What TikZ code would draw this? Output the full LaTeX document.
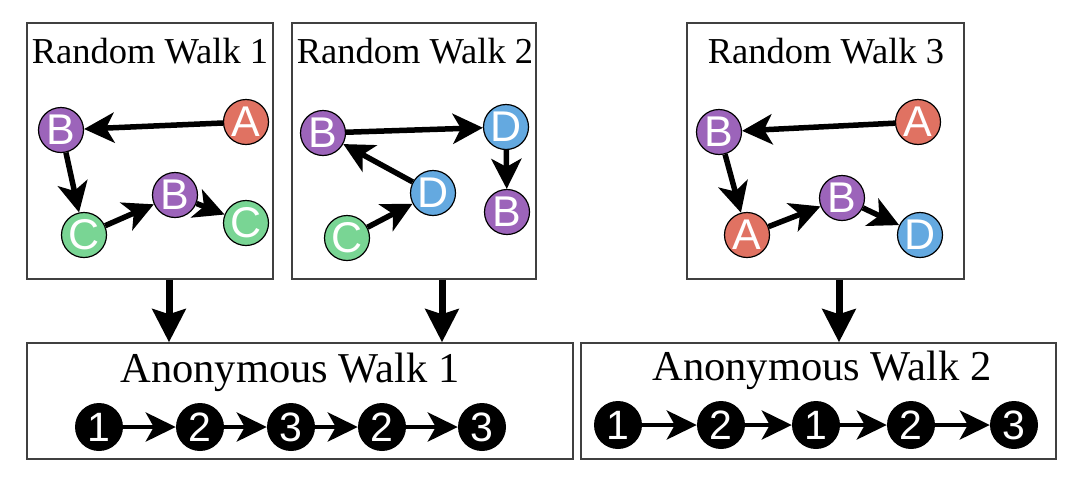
\documentclass[tikz,border=0pt]{standalone}
\usepackage{fontspec}
\setmainfont{Liberation Serif}
\setsansfont{Liberation Sans}
\usetikzlibrary{positioning}
\usetikzlibrary{arrows.meta}
\definecolor{colA}{HTML}{E07262}
\definecolor{colB}{HTML}{9C64BA}
\definecolor{colC}{HTML}{79D594}
\definecolor{colD}{HTML}{64A9E0}

\begin{document}
\begin{tikzpicture}[x=1pt,y=-1pt,
  walkbox/.style={draw=black!75,line width=1.5pt,inner sep=0pt},
  title/.style={anchor=base,font=\fontsize{36.5}{40}\selectfont},
  bigtitle/.style={anchor=base,font=\fontsize{42.5}{46}\selectfont},
  vert/.style={circle,draw=black,line width=1.2pt,minimum size=45pt,inner sep=0pt,
    text=white,font=\sffamily\fontsize{43}{44}\selectfont},
  anon/.style={circle,fill=black,minimum size=48pt,inner sep=0pt,
    text=white,font=\sffamily\fontsize{41}{44}\selectfont},
  hop/.style={line width=5.5pt,-{Stealth[length=30pt,width=30pt,inset=8pt]}},
  anonhop/.style={line width=4.5pt,-{Stealth[length=30pt,width=29pt,inset=8pt]}},
  down/.style={line width=7pt,-{Stealth[length=33pt,width=33pt,inset=5pt]}}]
\useasboundingbox (0,0) rectangle (1076,480);

\node (rw1) [walkbox,minimum width=246pt,minimum height=256pt] at (150,151) {};
\node (rw2) [walkbox,minimum width=244pt,minimum height=256pt] at (414,151) {};
\node (rw3) [walkbox,minimum width=277pt,minimum height=256pt] at (825.5,151) {};
\node (aw1) [walkbox,minimum width=546pt,minimum height=116pt] at (300,401) {};
\node (aw2) [walkbox,minimum width=475pt,minimum height=116pt] at (818.5,401) {};

\node (t1) [title] at (150,63) {Random Walk 1};
\node (t2) [title] at (415,63) {Random Walk 2};
\node (t3) [title] at (826,63) {Random Walk 3};
\node (t4) [bigtitle] at (290,382) {Anonymous Walk 1};
\node (t5) [bigtitle] at (822,380) {Anonymous Walk 2};

% random walk 1
\node (b11) [vert,fill=colB] at (61,130) {B};
\node (a11) [vert,fill=colA] at (246,122) {A};
\node (c11) [vert,fill=colC] at (84,235) {C};
\node (b12) [vert,fill=colB] at (175,195) {B};
\node (c12) [vert,fill=colC] at (246,223) {C};
\draw [hop] (a11)--(b11);
\draw [hop] (b11)--(c11);
\draw [hop] (c11)--(b12);
\draw [hop] (b12)--(c12);

% random walk 2
\node (b21) [vert,fill=colB] at (323,133) {B};
\node (d21) [vert,fill=colD] at (506,127) {D};
\node (d22) [vert,fill=colD] at (433,193) {D};
\node (c21) [vert,fill=colC] at (347,238) {C};
\node (b22) [vert,fill=colB] at (507,212) {B};
\draw [hop] (c21)--(d22);
\draw [hop] (d22)--(b21);
\draw [hop] (b21)--(d21);
\draw [hop] (d21)--(b22);

% random walk 3
\node (b31) [vert,fill=colB] at (719,132) {B};
\node (a31) [vert,fill=colA] at (918,122) {A};
\node (a32) [vert,fill=colA] at (747,235) {A};
\node (b32) [vert,fill=colB] at (842,198) {B};
\node (d31) [vert,fill=colD] at (920,235) {D};
\draw [hop] (a31)--(b31);
\draw [hop] (b31)--(a32);
\draw [hop] (a32)--(b32);
\draw [hop] (b32)--(d31);

% anonymous walks
\node (n11) [anon] at (99,427) {1};
\node (n12) [anon] at (200,427) {2};
\node (n13) [anon] at (291,427) {3};
\node (n14) [anon] at (382,427) {2};
\node (n15) [anon] at (482,427) {3};
\draw [anonhop] (n11)--(n12);
\draw [anonhop] (n12)--(n13);
\draw [anonhop] (n13)--(n14);
\draw [anonhop] (n14)--(n15);

\node (n21) [anon] at (618,425) {1};
\node (n22) [anon] at (721,425) {2};
\node (n23) [anon] at (816,425) {1};
\node (n24) [anon] at (911,425) {2};
\node (n25) [anon] at (1014,425) {3};
\draw [anonhop] (n21)--(n22);
\draw [anonhop] (n22)--(n23);
\draw [anonhop] (n23)--(n24);
\draw [anonhop] (n24)--(n25);

\coordinate (d1) at (169,0);
\coordinate (d2) at (442,0);
\coordinate (d3) at (839,0);
\draw [down] (rw1.south -| d1)--(aw1.north -| d1);
\draw [down] (rw2.south -| d2)--(aw1.north -| d2);
\draw [down] (rw3.south -| d3)--(aw2.north -| d3);

\end{tikzpicture}
\end{document}
